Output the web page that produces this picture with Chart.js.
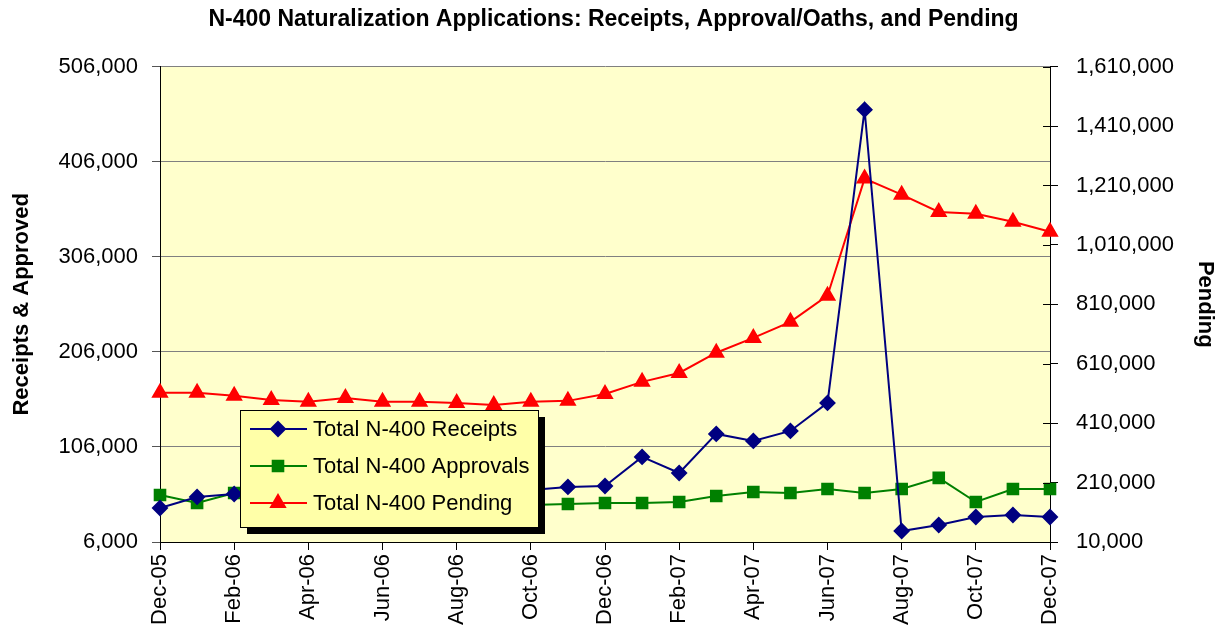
<!DOCTYPE html>
<html>
<head>
<meta charset="utf-8">
<script src="https://cdn.jsdelivr.net/npm/chart.js@4.4.0/dist/chart.umd.min.js"></script>
<style>
  html, body { margin: 0; padding: 0; background: #fff; }
  #wrap { width: 1227px; height: 635px; }
</style>
</head>
<body>
<div id="wrap"><canvas id="n400" width="1227" height="635"></canvas></div>
<script>
const months = ['Dec-05','Jan-06','Feb-06','Mar-06','Apr-06','May-06','Jun-06','Jul-06','Aug-06','Sep-06','Oct-06','Nov-06',
  'Dec-06','Jan-07','Feb-07','Mar-07','Apr-07','May-07','Jun-07','Jul-07','Aug-07','Sep-07','Oct-07','Nov-07','Dec-07'];

const receipts = [41800, 53400, 56500, 57000, 58000, 57500, 58500, 59000, 59500, 60000, 60700, 63900,
  64900, 95500, 78600, 119700, 112300, 122800, 152300, 460700, 17600, 23900, 32300, 34400, 32300];
const approvals = [55500, 47100, 57600, 54000, 51000, 49000, 48000, 47000, 46000, 45500, 45000, 46000,
  47000, 47000, 48000, 54400, 58600, 57600, 61800, 57600, 61800, 73400, 48100, 61800, 61800];
const pending = [512000, 512000, 502000, 488000, 482000, 495000, 482000, 482000, 478000, 471000, 482000, 485000,
  508000, 549000, 579000, 647000, 697000, 751000, 839000, 1233000, 1179000, 1121000, 1115000, 1088000, 1054000];

const leftTicks = [6000, 106000, 206000, 306000, 406000, 506000];
const rightTicks = [10000, 210000, 410000, 610000, 810000, 1010000, 1210000, 1410000, 1610000];

const FONT = "'Liberation Sans', Arial, sans-serif";
const fmt = v => v.toLocaleString('en-US');

// yellow plot background
const plotBg = {
  id: 'plotBg',
  beforeDraw(chart) {
    const a = chart.chartArea, ctx = chart.ctx;
    ctx.save();
    ctx.fillStyle = '#FFFFCC';
    ctx.fillRect(a.left, a.top, a.right - a.left, a.bottom - a.top);
    ctx.restore();
  }
};

// inward tick marks on the right axis + boxed legend with shadow
const extras = {
  id: 'extras',
  afterDatasetsDraw(chart) {
    const ctx = chart.ctx, y2 = chart.scales.y2, a = chart.chartArea;
    ctx.save();
    ctx.strokeStyle = '#000';
    ctx.lineWidth = 1;
    rightTicks.forEach(v => {
      const y = Math.round(y2.getPixelForValue(v)) + 0.5;
      ctx.beginPath();
      ctx.moveTo(a.right - 7, y);
      ctx.lineTo(a.right, y);
      ctx.stroke();
    });
    ctx.restore();
  },
  afterDraw(chart) {
    const ctx = chart.ctx;
    const x = 240, y = 410, w = 298, h = 117;
    ctx.save();
    ctx.fillStyle = '#000';
    ctx.fillRect(x + 7, y + 7, w, h);
    ctx.fillStyle = '#FFFFA8';
    ctx.fillRect(x, y, w, h);
    ctx.strokeStyle = '#000';
    ctx.lineWidth = 1;
    ctx.strokeRect(x + 0.5, y + 0.5, w, h);
    ctx.font = '22px ' + FONT;
    ctx.textBaseline = 'middle';
    chart.data.datasets.forEach((ds, i) => {
      const cy = y + 19 + i * 37;
      ctx.strokeStyle = ds.borderColor;
      ctx.lineWidth = 2;
      ctx.beginPath();
      ctx.moveTo(x + 10, cy);
      ctx.lineTo(x + 67, cy);
      ctx.stroke();
      ctx.fillStyle = ds.pointBackgroundColor;
      Chart.helpers.drawPoint(ctx, {
        pointStyle: ds.pointStyle, radius: ds.pointRadius, borderWidth: 1, rotation: 0
      }, x + 38, cy);
      ctx.fill();
      ctx.fillStyle = '#000';
      ctx.fillText(ds.label, x + 73, cy + 1);
    });
    ctx.restore();
  }
};

new Chart(document.getElementById('n400'), {
  type: 'line',
  data: {
    labels: months,
    datasets: [
      {
        label: 'Total N-400 Receipts', data: receipts, yAxisID: 'y',
        borderColor: '#000080', backgroundColor: '#000080', pointBackgroundColor: '#000080',
        pointStyle: 'rectRot', pointRadius: 7, borderWidth: 2, tension: 0
      },
      {
        label: 'Total N-400 Approvals', data: approvals, yAxisID: 'y',
        borderColor: '#008000', backgroundColor: '#008000', pointBackgroundColor: '#008000',
        pointStyle: 'rect', pointRadius: 7.5, borderWidth: 2, tension: 0
      },
      {
        label: 'Total N-400 Pending', data: pending, yAxisID: 'y2',
        borderColor: '#FF0000', backgroundColor: '#FF0000', pointBackgroundColor: '#FF0000',
        pointStyle: 'triangle', pointRadius: 8, borderWidth: 2, tension: 0
      }
    ]
  },
  options: {
    responsive: false,
    animation: false,
    devicePixelRatio: 1,
    layout: { padding: 0 },
    plugins: {
      legend: { display: false },
      tooltip: { enabled: false },
      title: {
        display: true,
        text: 'N-400 Naturalization Applications: Receipts, Approval/Oaths, and Pending',
        color: '#000',
        font: { family: FONT, size: 23, weight: 'bold' },
        padding: { top: 6, bottom: 33 }
      }
    },
    scales: {
      x: {
        offset: false,
        afterFit(s) { s.height = 93; },
        grid: { display: true, drawOnChartArea: false, tickLength: 8, color: '#000' },
        border: { color: '#000', width: 1 },
        ticks: {
          autoSkip: false, maxRotation: 90, minRotation: 90, padding: 4,
          color: '#000', font: { family: FONT, size: 22 },
          callback(v, i) { return i % 2 === 0 ? months[i] : null; }
        }
      },
      y: {
        position: 'left',
        min: 6000, max: 506000,
        afterBuildTicks(s) { s.ticks = leftTicks.map(v => ({ value: v })); },
        afterFit(s) { s.width = 160; },
        grid: { color: '#808080', tickLength: 8, tickColor: '#555' },
        border: { color: '#000', width: 1 },
        ticks: { color: '#000', padding: 14, font: { family: FONT, size: 22 }, callback: v => fmt(v) },
        title: {
          display: true, text: 'Receipts & Approved', color: '#000',
          font: { family: FONT, size: 22, weight: 'bold' }, padding: { top: 9, bottom: 0 }
        }
      },
      y2: {
        position: 'right',
        min: 10000, max: 1610000,
        afterBuildTicks(s) { s.ticks = rightTicks.map(v => ({ value: v })); },
        afterFit(s) { s.width = 177; },
        grid: { drawOnChartArea: false, tickLength: 8, color: '#000' },
        border: { color: '#000', width: 1 },
        ticks: { color: '#000', padding: 18, font: { family: FONT, size: 22 }, callback: v => fmt(v) },
        title: {
          display: true, text: 'Pending', color: '#000',
          font: { family: FONT, size: 22, weight: 'bold' }, padding: { top: 9, bottom: 0 }
        }
      }
    }
  },
  plugins: [plotBg, extras]
});
</script>
</body>
</html>
